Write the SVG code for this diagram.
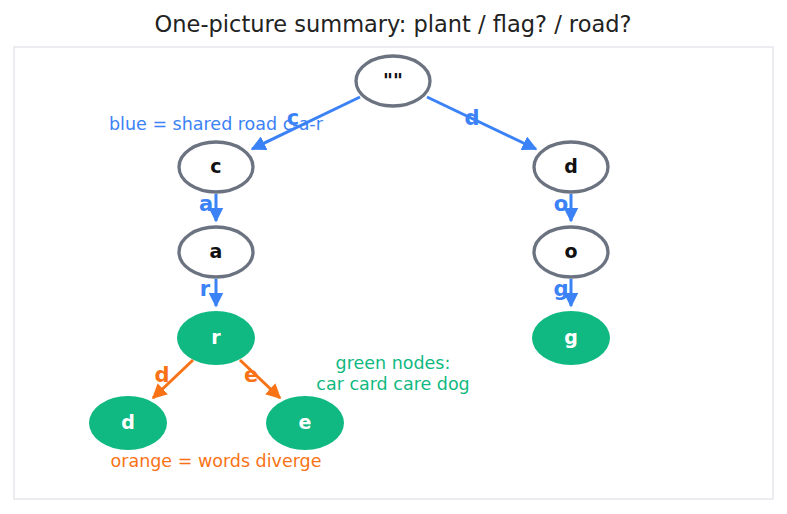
<svg xmlns="http://www.w3.org/2000/svg" width="787" height="514" viewBox="0 0 787 514">
<style>
text{font-family:"DejaVu Sans","Liberation Sans",sans-serif}
.title{font-size:22.5px;fill:#222;text-anchor:middle}
.n{fill:#fff;stroke:#6b7280;stroke-width:3.3}
.g{fill:#10b981;stroke:none}
.lb{font-size:19px;font-weight:bold;text-anchor:middle;fill:#111}
.lw{font-size:19px;font-weight:bold;text-anchor:middle;fill:#fff}
.eb{stroke:#3b82f6;stroke-width:3;fill:none}
.eo{stroke:#f97316;stroke-width:3;fill:none}
.tb{font-size:21px;font-weight:bold;fill:#3b82f6;text-anchor:middle}
.to{font-size:21px;font-weight:bold;fill:#f97316;text-anchor:middle}
.note{font-size:17.5px}
</style>
<defs>
<marker id="ab" viewBox="0 0 10 10" refX="9" refY="5" markerWidth="5" markerHeight="5" orient="auto" markerUnits="strokeWidth"><path d="M0,0 L10,5 L0,10 Z" fill="#3b82f6"/></marker>
<marker id="ao" viewBox="0 0 10 10" refX="9" refY="5" markerWidth="5" markerHeight="5" orient="auto" markerUnits="strokeWidth"><path d="M0,0 L10,5 L0,10 Z" fill="#f97316"/></marker>
</defs>
<rect width="787" height="514" fill="#fff"/>
<text class="title" x="393" y="32">One-picture summary: plant / flag? / road?</text>
<rect x="14" y="47" width="759" height="452" fill="none" stroke="#e5e7eb" stroke-width="1.5"/>
<g id="connectors">
<line class="eb" x1="360" y1="97" x2="252" y2="149" marker-end="url(#ab)"/>
<line class="eb" x1="427" y1="97" x2="536" y2="149" marker-end="url(#ab)"/>
<line class="eb" x1="216" y1="194" x2="216" y2="221" marker-end="url(#ab)"/>
<line class="eb" x1="216" y1="279" x2="216" y2="306" marker-end="url(#ab)"/>
<line class="eb" x1="571" y1="194" x2="571" y2="221" marker-end="url(#ab)"/>
<line class="eb" x1="571" y1="279" x2="571" y2="306" marker-end="url(#ab)"/>
<line class="eo" x1="193" y1="360" x2="153" y2="398" marker-end="url(#ao)"/>
<line class="eo" x1="240" y1="360" x2="280" y2="398" marker-end="url(#ao)"/>
<text class="tb" x="293" y="125">c</text>
<text class="tb" x="472" y="125">d</text>
<text class="tb" x="206" y="211">a</text>
<text class="tb" x="561" y="211">o</text>
<text class="tb" x="205" y="296">r</text>
<text class="tb" x="561" y="296">g</text>
<text class="to" x="162" y="382">d</text>
<text class="to" x="251" y="382">e</text>
</g>
<g id="n-root"><ellipse class="n" cx="393" cy="81" rx="37" ry="25"/><text class="lb" x="393" y="87">""</text></g>
<g id="n-c"><ellipse class="n" cx="216" cy="167" rx="37" ry="25"/><text class="lb" x="216" y="173">c</text></g>
<g id="n-d"><ellipse class="n" cx="571" cy="167" rx="37" ry="25"/><text class="lb" x="571" y="173">d</text></g>
<g id="n-a"><ellipse class="n" cx="216" cy="252" rx="37" ry="25"/><text class="lb" x="216" y="258">a</text></g>
<g id="n-o"><ellipse class="n" cx="571" cy="252" rx="37" ry="25"/><text class="lb" x="571" y="258">o</text></g>
<g id="n-r"><ellipse class="g" cx="216" cy="338" rx="39" ry="27"/><text class="lw" x="216" y="344">r</text></g>
<g id="n-g"><ellipse class="g" cx="571" cy="338" rx="39" ry="27"/><text class="lw" x="571" y="344">g</text></g>
<g id="n-d2"><ellipse class="g" cx="128" cy="423" rx="39" ry="27"/><text class="lw" x="128" y="429">d</text></g>
<g id="n-e"><ellipse class="g" cx="305" cy="423" rx="39" ry="27"/><text class="lw" x="305" y="429">e</text></g>
<text class="note" x="109" y="130" fill="#3b82f6">blue = shared road c-a-r</text>
<text class="note" x="393" y="369" fill="#10b981" text-anchor="middle">green nodes:</text>
<text class="note" x="393" y="390" fill="#10b981" text-anchor="middle">car card care dog</text>
<text class="note" x="216" y="467" fill="#f97316" text-anchor="middle">orange = words diverge</text>
</svg>
